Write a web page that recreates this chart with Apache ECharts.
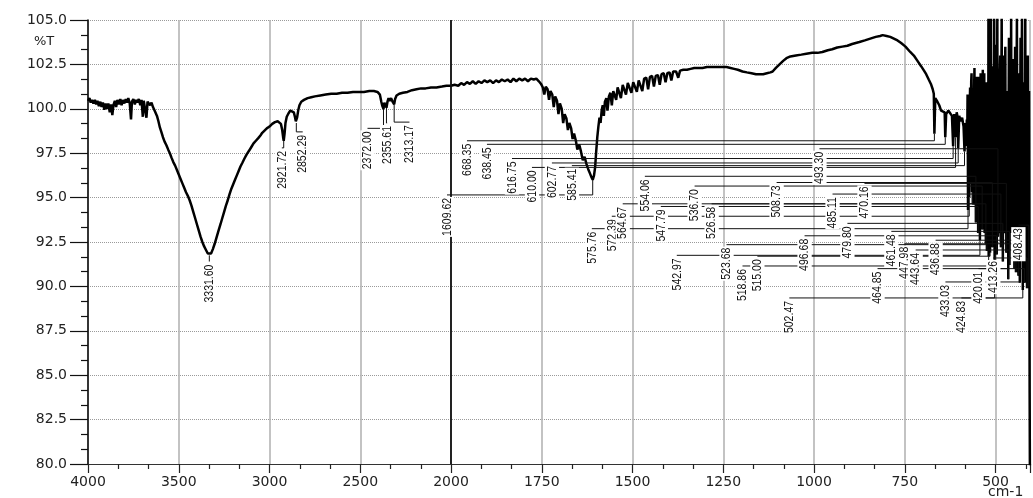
<!DOCTYPE html>
<html><head><meta charset="utf-8">
<script src="https://cdn.jsdelivr.net/npm/echarts@6/dist/echarts.min.js"></script>
<style>html,body{margin:0;padding:0;background:#fff;}#chart{width:1033px;height:498px;}</style>
</head><body><div id="chart"></div>
<script>
// x tick labels (cm-1); the axis is split at 2000 (500/division above, 250/division below)
const xTickLabels = [4000, 3500, 3000, 2500, 2000, 1750, 1500, 1250, 1000, 750, 500];
const breakWn = 2000;
const wnMin = 405;

// spectrum: [wavenumber cm-1, %T]
const spectrum = [
[4000,100.45],[3992,100.6],[3985,100.35],[3978,100.5],[3970,100.3],[3962,100.5],[3955,100.25],[3948,100.45],[3940,100.15],[3932,100.4],
[3925,100.1],[3918,100.35],[3910,99.95],[3903,100.3],[3895,100.0],[3888,100.3],[3880,99.8],[3873,100.25],[3866,99.65],[3860,100.2],
[3852,100.45],[3845,100.1],[3838,100.5],[3830,100.25],[3822,100.55],[3815,100.2],[3808,100.5],[3800,100.3],[3792,100.55],[3785,100.35],
[3778,100.6],[3770,100.3],[3763,99.4],[3758,100.4],[3750,100.55],[3742,100.25],[3735,100.5],[3728,100.35],[3720,100.55],[3712,100.2],
[3705,100.5],[3698,99.55],[3693,100.45],[3685,100.55],[3678,99.5],[3672,100.4],[3665,100.5],[3658,100.2],[3650,100.35],[3642,100.1],
[3635,99.95],[3628,99.9],[3620,99.6],[3612,99.3],[3604,98.95],[3596,98.7],[3587,98.4],[3578,98.15],[3568,97.95],[3558,97.7],
[3549,97.5],[3540,97.25],[3530,97.0],[3520,96.8],[3510,96.55],[3500,96.3],[3490,96.05],[3480,95.8],[3470,95.55],[3460,95.3],
[3450,95.1],[3440,94.85],[3430,94.55],[3420,94.2],[3410,93.85],[3400,93.5],[3390,93.15],[3380,92.8],[3370,92.5],[3360,92.25],
[3350,92.05],[3340,91.85],[3331.6,91.75],[3322,91.85],[3312,92.1],[3302,92.4],[3292,92.75],[3282,93.1],[3270,93.5],[3260,93.85],
[3250,94.2],[3240,94.55],[3230,94.85],[3220,95.2],[3210,95.5],[3200,95.75],[3190,96.0],[3180,96.25],[3170,96.5],[3160,96.75],
[3150,96.95],[3138,97.2],[3125,97.45],[3112,97.65],[3100,97.85],[3088,98.05],[3075,98.2],[3062,98.35],[3050,98.5],[3040,98.65],
[3030,98.75],[3015,98.9],[3000,99.0],[2985,99.15],[2970,99.25],[2955,99.3],[2945,99.3],[2937,99.15],[2930,98.8],[2925,98.4],
[2921.72,98.2],[2917,98.6],[2912,99.2],[2905,99.55],[2895,99.75],[2885,99.9],[2875,99.95],[2866,99.8],[2860,99.55],[2855,99.3],
[2852.29,99.2],[2848,99.5],[2842,99.9],[2835,100.2],[2825,100.4],[2810,100.5],[2790,100.6],[2770,100.65],[2750,100.7],[2720,100.75],
[2690,100.8],[2660,100.85],[2630,100.85],[2600,100.9],[2570,100.9],[2540,100.95],[2510,100.95],[2480,100.95],[2450,101.0],[2425,101.0],
[2405,100.95],[2392,100.8],[2384,100.4],[2378,100.15],[2372,100.0],[2367,100.35],[2362,100.15],[2358,100.3],[2355.61,100.05],[2350,100.4],
[2344,100.6],[2338,100.45],[2330,100.6],[2322,100.4],[2317,100.35],[2313.17,100.25],[2308,100.55],[2300,100.75],[2285,100.85],[2265,100.9],
[2240,100.95],[2215,101.05],[2190,101.1],[2165,101.15],[2140,101.15],[2110,101.2],[2080,101.2],[2050,101.25],[2025,101.3],[2000,101.3],
[1990,101.35],[1980,101.3],[1972,101.45],[1964,101.35],[1956,101.5],[1948,101.4],[1940,101.55],[1932,101.4],[1924,101.55],[1916,101.45],
[1908,101.6],[1900,101.5],[1892,101.6],[1884,101.45],[1876,101.6],[1868,101.5],[1860,101.65],[1852,101.55],[1844,101.65],[1836,101.5],
[1828,101.7],[1820,101.55],[1812,101.7],[1804,101.6],[1796,101.7],[1788,101.55],[1780,101.7],[1772,101.65],[1765,101.7],[1758,101.55],
[1752,101.4],[1747,101.2],[1743,100.8],[1739,101.25],[1734,101.1],[1730,100.5],[1726,101.0],[1721,100.8],[1717,100.1],[1713,100.7],
[1708,100.45],[1704,99.7],[1700,100.3],[1695,100.0],[1691,99.2],[1687,99.7],[1682,99.45],[1678,98.8],[1674,99.2],[1669,98.9],
[1665,98.3],[1661,98.6],[1656,98.2],[1652,97.7],[1647,98.0],[1642,97.6],[1637,97.1],[1632,97.3],[1627,96.9],[1622,96.6],
[1617,96.35],[1613,96.15],[1609.62,96.0],[1606,96.25],[1603,96.7],[1600,97.6],[1597,98.4],[1594,99.0],[1591,99.5],[1588,99.2],
[1585,99.9],[1582,100.2],[1579,99.6],[1576,100.4],[1572,100.6],[1569,99.9],[1565,100.7],[1561,100.9],[1557,100.2],[1553,101.0],
[1549,101.1],[1545,100.5],[1541,101.2],[1536,101.3],[1532,100.6],[1527,101.35],[1522,101.4],[1518,100.8],[1513,101.45],[1508,101.5],
[1503,100.9],[1498,101.5],[1493,101.6],[1488,100.95],[1483,101.6],[1478,101.65],[1473,101.0],[1468,101.7],[1462,101.75],[1457,101.1],
[1452,101.8],[1446,101.85],[1441,101.25],[1436,101.85],[1430,101.9],[1425,101.35],[1420,101.95],[1414,102.0],[1409,101.5],[1404,102.0],
[1398,102.05],[1393,101.6],[1388,102.1],[1380,102.1],[1374,101.75],[1369,102.15],[1360,102.2],[1350,102.2],[1340,102.25],[1330,102.3],
[1320,102.3],[1307,102.3],[1295,102.35],[1280,102.35],[1265,102.35],[1250,102.35],[1241,102.35],[1230,102.3],[1220,102.25],[1210,102.2],
[1197,102.1],[1185,102.05],[1172,102.0],[1160,101.95],[1150,101.95],[1140,101.95],[1130,102.0],[1120,102.05],[1114,102.1],[1105,102.3],
[1095,102.5],[1085,102.7],[1076,102.85],[1065,102.95],[1050,103.0],[1035,103.05],[1021,103.1],[1005,103.15],[990,103.15],[977,103.2],
[962,103.3],[950,103.35],[936,103.45],[922,103.5],[908,103.55],[895,103.65],[875,103.76],[860,103.85],[845,103.95],[830,104.05],
[818,104.1],[811,104.15],[800,104.1],[790,104.05],[780,103.95],[770,103.85],[760,103.7],[748,103.5],[735,103.2],[725,103.0],
[715,102.7],[705,102.4],[697,102.15],[691,101.95],[684,101.65],[678,101.4],[673,101.1],[670,100.85],[668.35,98.6],[666,100.6],
[660,100.4],[655,100.2],[650,99.9],[645,100.0],[640,99.8],[638.45,98.4],[636,99.7],[630,99.9],[625,99.8],[620,99.6],
[616.75,97.9],[614,99.7],[610.00,98.4],[607,99.8],[604,99.5],[602.77,97.8],[600,99.6],[596,99.3],[592,99.5],[588,99.0],
[585.41,97.6],[583,99.2],[580,98.8],[579,99.4],[578,97.9],[577,100.8],[576,96.5],[575.76,94.3],[575,98.0],[574,99.6],
[573,96.0],[572.39,95.0],[571,100.2],[570,101.2],[569,95.8],[568,97.5],[567,101.5],[566,102.0],[565,96.2],[564.67,95.3],
[563,99.0],[562,100.5],[561,94.6],[560,96.0],[559,101.0],[558,102.3],[557,95.5],[556,94.8],[555,99.8],[554.06,93.6],
[553,100.2],[552,101.8],[551,94.0],[550,95.4],[549,101.0],[548,100.0],[547.79,93.0],[547,99.5],[546,101.8],[545,96.0],
[544,94.2],[543.5,100.5],[542.97,92.6],[542,99.0],[541,102.0],[540,93.5],[539,95.0],[538,101.5],[537,99.0],[536.70,93.2],
[536,100.0],[535,102.2],[534,94.0],[533,96.5],[532,101.0],[531,102.0],[530,93.0],[529,93.8],[528,100.5],[527,99.0],
[526.58,92.4],[526,100.0],[525,101.5],[524,95.0],[523.68,92.0],[523,99.5],[522,100.6],[521,93.5],[520,97.0],[519.5,105.5],
[518.86,91.7],[518,99.0],[517,103.0],[516,94.0],[515.00,91.9],[514,100.5],[513,105.5],[512,93.0],[511,95.2],[510,101.5],
[509.5,99.0],[508.73,92.2],[508,100.0],[507,102.4],[506,93.0],[505,94.5],[504.5,101.0],[504,105.5],[503,94.0],[502.47,91.5],
[501,101.0],[500,103.6],[499,93.0],[498,95.0],[497,101.0],[496.68,91.8],[496,99.0],[495,105.5],[494,93.5],[493.30,92.8],
[492,100.0],[491,101.8],[490,93.0],[489,95.6],[488,102.0],[487,103.0],[486,94.0],[485.11,92.2],[484,100.0],[483,105.5],
[482,93.0],[481,94.0],[480.5,100.0],[479.80,91.4],[479,99.0],[478,103.0],[477,102.0],[476,93.0],[475,96.2],[474,101.0],
[473,103.5],[472,94.0],[471,99.0],[470.16,91.9],[469,100.0],[468,101.0],[467,93.0],[466,95.0],[465.5,100.0],[464.85,90.4],
[464,99.0],[463,104.0],[462,93.0],[461.48,91.2],[460,100.0],[459,99.5],[458,93.0],[457,105.5],[456,96.0],[455,94.0],
[454,101.0],[453,99.0],[452,102.8],[451,93.0],[450,96.0],[449,101.0],[448.5,99.0],[447.98,91.0],[447,100.0],[446,103.5],
[445,94.0],[444,99.0],[443.64,90.8],[442,101.0],[441,105.5],[440,93.0],[439,97.0],[438,102.0],[437.5,99.0],[436.88,90.6],
[436,99.0],[435,102.0],[434,93.0],[433.03,90.2],[432,100.0],[431,104.0],[430,92.0],[429,96.0],[428,102.0],[427,105.5],
[426,93.0],[425.5,98.0],[424.83,89.8],[424,99.0],[423,101.5],[422,92.0],[421,99.0],[420.01,90.2],[419,100.0],[418,105.5],
[417,92.0],[416,95.0],[415,102.0],[414,98.0],[413.26,89.9],[412,100.0],[411,103.0],[410,92.0],[409.5,99.0],[408.43,90.0],
[407.5,101.0],[407,96.0],[406,84.0],[405.2,79.0]
];

// labelled peaks, with the place of each label (wavenumber of label column, %T of label top)
const peakWn  = [3331.60,2921.72,2852.29,2372.00,2355.61,2313.17,1609.62,668.35,638.45,616.75,610.00,602.77,585.41,575.76,572.39,564.67,554.06,547.79,542.97,536.70,526.58,523.68,518.86,515.00,508.73,502.47,496.68,493.30,485.11,479.80,470.16,464.85,461.48,447.98,443.64,436.88,433.03,424.83,420.01,413.26,408.43];
const labelWn = [3331.6,2932,2817,2460,2352,2229,2022,1956,1901,1832,1777,1722,1667,1612,1557,1527,1466,1422,1378,1329,1282,1241,1197,1156,1103,1068,1026,985,949,908,861,825,787,751,720,665,638,594,547,506,437];
const labelT  = [91.4,97.8,98.7,98.9,99.2,99.25,95.15,98.2,98.0,97.2,96.7,96.95,96.8,93.25,93.95,94.65,96.2,94.5,91.75,95.65,94.65,92.35,91.15,91.7,95.85,89.35,92.85,97.75,95.2,93.55,95.8,91.0,93.1,92.4,92.05,92.6,90.25,89.35,91.0,91.6,93.45];

function toU(wn) { return wn >= breakWn ? (4000 - wn) / 500 : 4 + (breakWn - wn) / 250; }
function tAt(wn) {
  let best = spectrum[0];
  for (const s of spectrum) if (Math.abs(s[0] - wn) < Math.abs(best[0] - wn)) best = s;
  return best[1];
}

const lineData = spectrum.map(s => [toU(s[0]), s[1]]);
const peakData = peakWn.map((w, i) => [toU(w), tAt(w), toU(labelWn[i]), labelT[i], i]);

const chart = echarts.init(document.getElementById('chart'), null, {renderer: 'canvas'});
const axisFont = 'DejaVu Sans';
chart.setOption({
  animation: false,
  backgroundColor: '#ffffff',
  grid: {left: 88, right: 2, top: 20, bottom: 34, containLabel: false},
  xAxis: {
    type: 'value', min: 0, max: toU(wnMin), interval: 1,
    axisLine: {show: true, onZero: false, lineStyle: {color: '#333', width: 1}},
    axisTick: {show: true, length: 9, lineStyle: {color: '#222', width: 1.2}},
    minorTick: {show: true, splitNumber: 3, length: 5, lineStyle: {color: '#222', width: 1.2}},
    axisLabel: {
      margin: 11, color: '#222', fontFamily: axisFont, fontSize: 14,
      formatter: v => { const r = Math.round(v); return Math.abs(v - r) < 1e-6 && xTickLabels[r] !== undefined ? String(xTickLabels[r]) : ''; }
    },
    splitLine: {show: true, lineStyle: {color: '#b4b4b4', width: 1.6, type: 'solid'}}
  },
  yAxis: {
    type: 'value', min: 80, max: 105, interval: 2.5,
    axisLine: {show: true, lineStyle: {color: '#111', width: 1.6}},
    axisTick: {show: true, length: 18, lineStyle: {color: '#111', width: 1.2}},
    minorTick: {show: true, splitNumber: 3, length: 7, lineStyle: {color: '#111', width: 1.2}},
    axisLabel: {margin: 21, color: '#222', fontFamily: axisFont, fontSize: 14, formatter: v => v.toFixed(1)},
    splitLine: {show: true, lineStyle: {color: '#9a9a9a', width: 1, type: 'dotted'}}
  },
  graphic: [
    {type: 'text', left: 34, top: 35, style: {text: '%T', fill: '#222', font: '13px "DejaVu Sans"'}},
    {type: 'text', left: 988, top: 485, style: {text: 'cm-1', fill: '#222', font: '14px "DejaVu Sans"'}}
  ],
  series: [
    {
      type: 'line', data: lineData, showSymbol: false, symbol: 'none', z: 3,
      lineStyle: {color: '#000', width: 2.5}, clip: true,
      markLine: {
        silent: true, symbol: ['none', 'none'], label: {show: false},
        lineStyle: {color: '#111', width: 1.8, type: 'solid'},
        data: [{xAxis: toU(breakWn)}]
      }
    },
    {
      type: 'custom', z: 4, silent: true, data: peakData,
      encode: {x: [0, 2], y: [1, 3]},
      renderItem: (params, api) => {
        const p = api.coord([api.value(0), api.value(1)]);
        const l = api.coord([api.value(2), api.value(3)]);
        return {type: 'polyline', shape: {points: [[l[0], l[1]], [p[0], l[1]], [p[0], p[1]]]},
                style: {stroke: '#111', lineWidth: 1, fill: null}};
      }
    },
    {
      type: 'custom', z: 5, silent: true, data: peakData,
      encode: {x: [0, 2], y: [1, 3]},
      renderItem: (params, api) => {
        const l = api.coord([api.value(2), api.value(3)]);
        const i = api.value(4);
        return {type: 'text', x: l[0], y: l[1] + 2, rotation: Math.PI / 2, scaleY: 1.3,
                style: {text: peakWn[i].toFixed(2), fill: '#111', font: '10.5px "Liberation Sans"',
                        align: 'right', verticalAlign: 'middle', textAlign: 'right', textVerticalAlign: 'middle',
                        backgroundColor: '#fff', padding: [0, 1]}};
      }
    }
  ]
});
</script></body></html>
